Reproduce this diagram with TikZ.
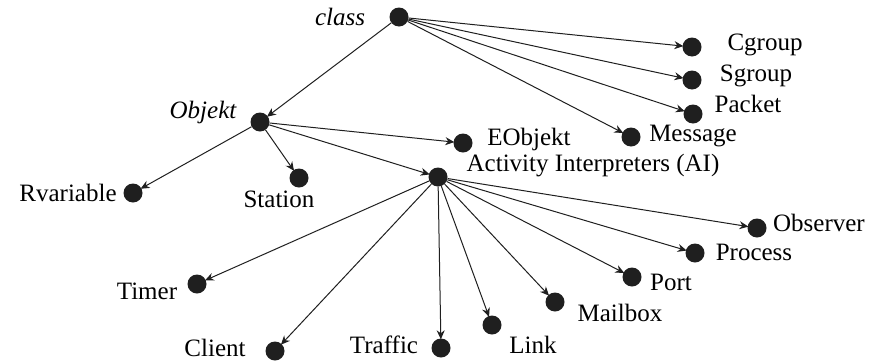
\documentclass[tikz,border=0pt]{standalone}
\usepackage{fontspec}
\setmainfont{Liberation Serif}
\usetikzlibrary{arrows.meta}
\begin{document}
\begin{tikzpicture}[x=1pt,y=-1pt,
  dot/.style={circle,fill=black!88,inner sep=0pt,minimum width=19pt,minimum height=17pt},
  lbl/.style={inner sep=0pt,font=\fontsize{25}{29}\selectfont},
  ilbl/.style={lbl,font=\fontsize{25}{29}\selectfont\itshape},
  arr/.style={-{Stealth[length=9pt,width=8pt]},line width=1pt,black!88,shorten >=-1pt}]
\useasboundingbox (0,0) rectangle (873,362);
% dots
\node[dot] (class) at (399,17) {};
\node[dot] (cgroup) at (692,47) {};
\node[dot] (sgroup) at (692,80) {};
\node[dot] (packet) at (693,114) {};
\node[dot] (message) at (631,137) {};
\node[dot] (objekt) at (260,122) {};
\node[dot] (eobjekt) at (463,143) {};
\node[dot] (ai) at (438,177) {};
\node[dot] (rvar) at (133,193) {};
\node[dot] (station) at (299,178) {};
\node[dot] (timer) at (197,284) {};
\node[dot] (client) at (275,351) {};
\node[dot] (traffic) at (441,348) {};
\node[dot] (link) at (492,325) {};
\node[dot] (mailbox) at (555,302) {};
\node[dot] (port) at (632,277) {};
\node[dot] (process) at (695,253) {};
\node[dot] (observer) at (757,228) {};
% labels
\node[ilbl] (lclass) at (340,17) {class};
\node[lbl] (lcgroup) at (765,45) {Cgroup};
\node[lbl] (lsgroup) at (756,76) {Sgroup};
\node[lbl] (lpacket) at (748,104) {Packet};
\node[lbl] (lmessage) at (693,136) {Message};
\node[ilbl] (lobjekt) at (203,112) {Objekt};
\node[lbl] (leobjekt) at (529,139) {EObjekt};
\node[lbl] (lai) at (593,166) {Activity Interpreters (AI)};
\node[lbl] (lrvar) at (68,193) {Rvariable};
\node[lbl] (lstation) at (279,199) {Station};
\node[lbl] (ltimer) at (147,291) {Timer};
\node[lbl] (lclient) at (215,348) {Client};
\node[lbl] (ltraffic) at (384,345) {Traffic};
\node[lbl] (llink) at (533,345) {Link};
\node[lbl] (lmailbox) at (620,313) {Mailbox};
\node[lbl] (lport) at (671,282) {Port};
\node[lbl] (lprocess) at (754,252) {Process};
\node[lbl] (lobserver) at (819,223) {Observer};
% edges
\foreach \t in {cgroup,sgroup,packet,message,objekt}
  \draw[arr] (class) -- (\t);
\foreach \t in {eobjekt,ai,rvar,station}
  \draw[arr] (objekt) -- (\t);
\foreach \t in {timer,client,traffic,link,mailbox,port,process,observer}
  \draw[arr] (ai) -- (\t);
\end{tikzpicture}
\end{document}
